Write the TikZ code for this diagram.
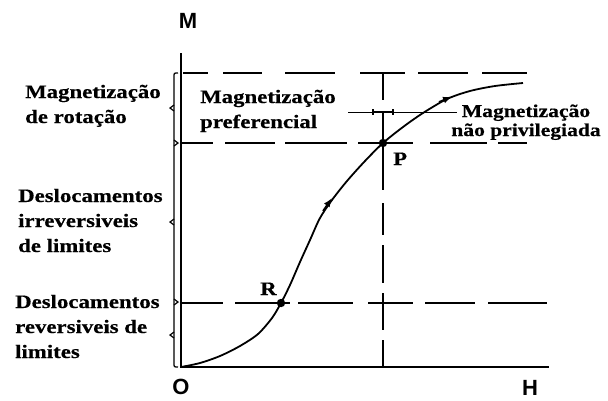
\documentclass[tikz,border=0pt]{standalone}
\usepackage{fontspec}
\newfontfamily\lblfont{Liberation Serif}[FakeStretch=1.2,FakeBold=0.5]
\newfontfamily\axfont{Liberation Sans}
\usetikzlibrary{arrows.meta}
\begin{document}
\begin{tikzpicture}[x=1pt,y=-1pt,
 lbl/.style={font=\lblfont\bfseries\fontsize{19}{25}\selectfont, inner sep=0pt, align=left, anchor=base west},
 ax/.style={font=\axfont\bfseries\fontsize{22}{22}\selectfont, inner sep=0pt, anchor=base},
 ptl/.style={font=\lblfont\bfseries\fontsize{19}{19}\selectfont, inner sep=0pt, anchor=base west},
 axisln/.style={line width=1.6pt},
 dsh/.style={line width=1.3pt},
 crv/.style={line width=1.8pt},
 tip/.style={-{Latex[length=9pt,width=7pt]}, line width=1.8pt},
]
\path[use as bounding box] (0,0) rectangle (608,400);
% axes
\coordinate (O0) at (181,367);
\coordinate (Mtop) at (181,53);
\coordinate (Hend) at (549,367);
\draw[axisln] (Mtop) -- (O0) -- (Hend);
% dashed guide lines
\foreach \a/\b in {183/208, 223/262, 285/335, 360/405, 418/468, 482/527}
  \draw[dsh] (\a,73) -- (\b,73);
\foreach \a/\b in {181/213, 225/275, 285/347, 358/413, 430/487, 498/527}
  \draw[dsh] (\a,143) -- (\b,143);
\foreach \a/\b in {181/223, 235/290, 298/353, 368/413, 425/475, 488/547}
  \draw[dsh] (\a,303) -- (\b,303);
\foreach \a/\b in {73/100, 112/190, 203/235, 245/283, 293/330, 340/367}
  \draw[dsh] (383,\a) -- (383,\b);
% small bar
\draw[line width=1pt] (348,112) -- (457,112);
\draw[line width=2.5pt] (373,112) -- (393,112);
\draw[line width=1.2pt] (373,109) -- (373,115) (393,109) -- (393,115);
% brace
\draw[line width=1.3pt] (178,73) .. controls (174,73) .. (174,77) -- (174,363) .. controls (174,367) .. (178,367);
\foreach \y in {108,222,335}
  \draw[line width=1.2pt] (174,\y-3) -- (170,\y) -- (174,\y+3);
\foreach \y in {143,302}
  \draw[line width=1.2pt] (174,\y-3) -- (178,\y) -- (174,\y+3);
% curve
\draw[crv] plot[smooth, tension=0.5] coordinates {(181,367) (200,363) (220,356) (240,346) (258,334) (272,318) (281,303) (290,285) (300,262) (310,240) (320,218) (332,200) (347,181) (365,161) (383,143) (403,127) (423,113) (447,99) (470,91) (495,86) (523,83)};
\draw[tip] (323,211) -- (332,198);
\draw[tip] (439,102) -- (452,96.5);
\coordinate (Rp) at (281,303);
\coordinate (Pp) at (383,143);
\fill (Rp) circle (4.2);
\fill (Pp) circle (4.2);
% labels
\node[ax] (M) at (188,28) {M};
\node[ax] (H) at (530,395) {H};
\node[ax] (O) at (181,394) {O};
\node[ptl] (R) at (260,295) {R};
\node[ptl] (P) at (393,165) {P};
\node[lbl] (rot) at (25,123) {Magnetização\\de rotação};
\node[lbl] (pref) at (200,128) {Magnetização\\preferencial};
\node[lbl, align=center, anchor=base, font=\lblfont\bfseries\fontsize{18}{19}\selectfont] (nao) at (526,136) {Magnetização\\não privilegiada};
\node[lbl] (irr) at (18,252) {Deslocamentos\\irreversiveis\\de limites};
\node[lbl] (rev) at (15,358) {Deslocamentos\\reversiveis de\\limites};
\end{tikzpicture}
\end{document}
